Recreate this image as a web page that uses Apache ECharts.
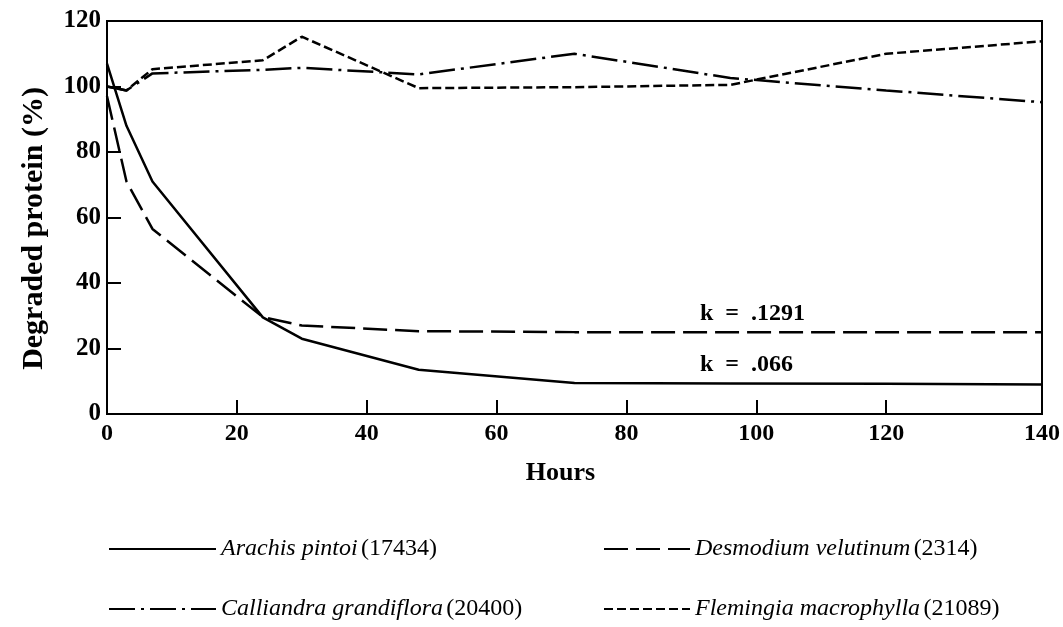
<!DOCTYPE html>
<html>
<head>
<meta charset="utf-8">
<script src="https://cdn.jsdelivr.net/npm/echarts@6/dist/echarts.min.js"></script>
<style>
html, body { margin: 0; background: #fff; }
#main { width: 1063px; height: 627px; }
</style>
</head>
<body>
<div id="main"></div>
<script>
// sampling times (h) and % degraded protein
var hours = [0, 3, 7, 24, 30, 48, 72, 96, 120, 144];
var arachis = [107, 88, 71, 29.5, 23, 13.5, 9.5, 9.3, 9.2, 9];
var desmodium = [97, 71, 56.5, 29.6, 27, 25.3, 25, 25, 25, 25];
var calliandra = [100, 98.8, 104, 105.1, 105.7, 103.7, 110, 102.6, 98.8, 95.2];
var flemingia = [100, 98.8, 105.3, 108, 115.2, 99.5, 99.8, 100.5, 110, 113.8];

var species = ['Arachis pintoi', 'Desmodium velutinum', 'Calliandra grandiflora', 'Flemingia macrophylla'];
var accessions = ['17434', '2314', '20400', '21089'];
var rateLabels = ['k  =  .1291', 'k  =  .066'];

// x labels as printed (the last one sits on the right edge of the frame)
var xTickValues = [0, 20, 40, 60, 80, 100, 120, 144];
var xTickLabels = ['0', '20', '40', '60', '80', '100', '120', '140'];

var serif = 'Liberation Serif';
var ink = '#000';

function pairs(arr) {
	return hours.map(function(h, i) { return [h, arr[i]]; });
}

var dashes = [
	'solid',
	[24, 8],
	[26, 6, 3, 6],
	[9, 4]
];
var values = [arachis, desmodium, calliandra, flemingia];

var series = species.map(function(name, i) {
	return {
		name: name,
		type: 'line',
		symbol: 'none',
		data: pairs(values[i]),
		lineStyle: { color: ink, width: 2.5, type: dashes[i] },
		itemStyle: { color: ink },
		z: 3
	};
});

// one legend per item so the two columns line up like the print
var legendPos = [
	{ left: 103, top: 532, w: 107 },
	{ left: 598, top: 532, w: 86 },
	{ left: 103, top: 592, w: 107 },
	{ left: 598, top: 592, w: 86 }
];
var legends = species.map(function(name, i) {
	return {
		data: [name],
		left: legendPos[i].left,
		top: legendPos[i].top,
		itemWidth: legendPos[i].w,
		itemHeight: 14,
		itemGap: 0,
		selectedMode: false,
		itemStyle: { opacity: 0 },
		formatter: function(n) {
			return '{i|' + n + '} {n|(' + accessions[species.indexOf(n)] + ')}';
		},
		textStyle: {
			rich: {
				i: { fontFamily: serif, fontStyle: 'italic', fontSize: 24, color: ink },
				n: { fontFamily: serif, fontSize: 24, color: ink }
			}
		}
	};
});

var myChart = echarts.init(document.getElementById('main'));
var option = {
	animation: false,
	backgroundColor: '#fff',
	grid: {
		left: 107,
		right: 18,
		top: 21,
		bottom: 213,
		show: true,
		borderColor: ink,
		borderWidth: 2
	},
	legend: legends,
	xAxis: {
		type: 'value',
		min: 0,
		max: 144,
		name: 'Hours',
		nameLocation: 'middle',
		nameGap: 46,
		nameTextStyle: {
			fontFamily: serif, fontWeight: 'bold', fontSize: 26, color: ink,
			padding: [0, 28, 0, 0]
		},
		splitLine: { show: false },
		axisLine: { lineStyle: { color: ink, width: 2 } },
		axisTick: {
			inside: true,
			length: 14,
			customValues: [20, 40, 60, 80, 100, 120],
			lineStyle: { color: ink, width: 2 }
		},
		axisLabel: {
			customValues: xTickValues,
			margin: 8,
			fontFamily: serif,
			fontWeight: 'bold',
			fontSize: 24,
			color: ink,
			formatter: function(v) {
				return xTickLabels[xTickValues.indexOf(v)];
			}
		}
	},
	yAxis: {
		type: 'value',
		min: 0,
		max: 120,
		interval: 20,
		name: 'Degraded protein (%)',
		nameLocation: 'middle',
		nameGap: 58,
		nameTextStyle: {
			fontFamily: serif, fontWeight: 'bold', fontSize: 30, color: ink,
			padding: [0, 22, 0, 0]
		},
		splitLine: { show: false },
		axisLine: { lineStyle: { color: ink, width: 2 } },
		axisTick: { inside: true, length: 14, lineStyle: { color: ink, width: 2 } },
		axisLabel: {
			margin: 6,
			fontFamily: serif,
			fontWeight: 'bold',
			fontSize: 25,
			color: ink
		}
	},
	graphic: [
		{
			type: 'text',
			left: 700,
			top: 302,
			style: { text: rateLabels[0], font: 'bold 24px "Liberation Serif"', fill: ink }
		},
		{
			type: 'text',
			left: 700,
			top: 353,
			style: { text: rateLabels[1], font: 'bold 24px "Liberation Serif"', fill: ink }
		}
	],
	series: series
};
myChart.setOption(option);
</script>
</body>
</html>
